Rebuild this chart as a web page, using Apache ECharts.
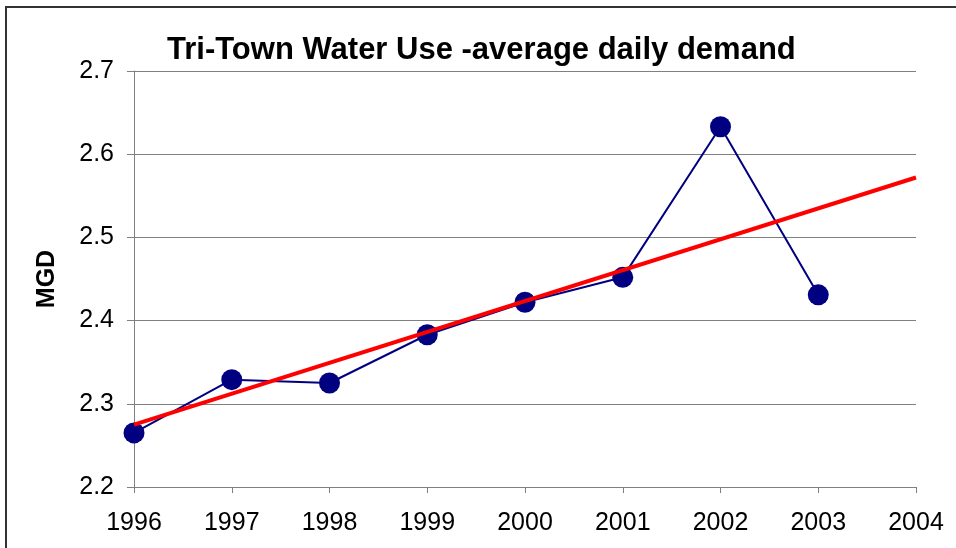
<!DOCTYPE html>
<html>
<head>
<meta charset="utf-8">
<script src="https://cdn.jsdelivr.net/npm/echarts@6/dist/echarts.min.js"></script>
<style>
html,body{margin:0;padding:0;background:#fff;}
#chart{width:956px;height:548px;}
</style>
</head>
<body>
<div id="chart"></div>
<script>
const years = [1996, 1997, 1998, 1999, 2000, 2001, 2002, 2003];
const demand = [2.265, 2.329, 2.325, 2.383, 2.422, 2.452, 2.633, 2.431];
const trendYears = [1996, 2004];
const trendValues = [2.275, 2.572];
const yTicks = [2.2, 2.3, 2.4, 2.5, 2.6, 2.7];
const xTicks = [1996, 1997, 1998, 1999, 2000, 2001, 2002, 2003, 2004];

const chart = echarts.init(document.getElementById('chart'));
const FONT = '"Liberation Sans", Arial, sans-serif';
chart.setOption({
  backgroundColor: '#ffffff',
  animation: false,
  title: {
    text: 'Tri-Town Water Use -average daily demand',
    left: 162,
    top: 30,
    textStyle: { fontFamily: FONT, fontWeight: 'bold', fontSize: 31, color: '#000' }
  },
  graphic: [{
    type: 'rect',
    shape: { x: 6, y: 7, width: 1000, height: 600 },
    style: { fill: 'none', stroke: '#333', lineWidth: 2 },
    silent: true
  }],
  grid: { left: 134, right: 40, top: 71, bottom: 61 },
  xAxis: {
    type: 'value',
    min: xTicks[0],
    max: xTicks[xTicks.length - 1],
    interval: 1,
    axisLine: { show: true, onZero: false, lineStyle: { color: '#808080', width: 1 } },
    axisTick: { show: true, length: 6, lineStyle: { color: '#808080' } },
    splitLine: { show: false },
    axisLabel: {
      margin: 24,
      fontFamily: FONT, fontSize: 25, color: '#000',
      formatter: v => String(v)
    }
  },
  yAxis: {
    type: 'value',
    min: yTicks[0],
    max: yTicks[yTicks.length - 1],
    interval: 0.1,
    name: 'MGD',
    nameLocation: 'middle',
    nameGap: 74,
    nameRotate: 90,
    nameTextStyle: { fontFamily: FONT, fontWeight: 'bold', fontSize: 25, color: '#000' },
    axisLine: { show: true, lineStyle: { color: '#808080', width: 1 } },
    axisTick: { show: true, length: 7, lineStyle: { color: '#808080' } },
    splitLine: { show: true, lineStyle: { color: '#808080', width: 1 } },
    axisLabel: {
      margin: 20,
      fontFamily: FONT, fontSize: 25, color: '#000',
      formatter: v => v.toFixed(1)
    }
  },
  series: [
    {
      type: 'line',
      data: years.map((y, i) => [y, demand[i]]),
      symbol: 'circle',
      symbolSize: 21,
      showAllSymbol: true,
      lineStyle: { color: '#000080', width: 2 },
      itemStyle: { color: '#000080' },
      z: 2
    },
    {
      type: 'line',
      data: trendYears.map((y, i) => [y, trendValues[i]]),
      symbol: 'none',
      lineStyle: { color: '#ff0000', width: 4 },
      z: 3
    }
  ]
});
</script>
</body>
</html>
